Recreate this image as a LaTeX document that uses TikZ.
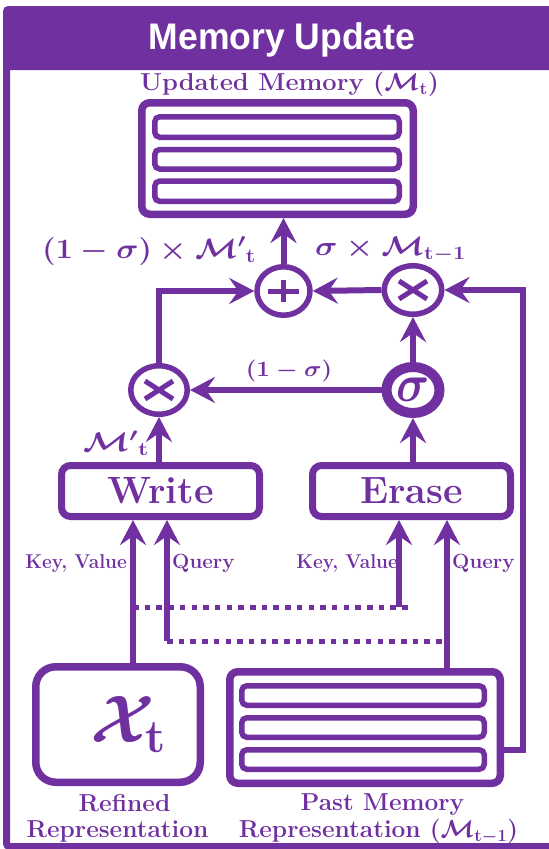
\RequirePackage{fix-cm}
\documentclass[tikz,border=0pt]{standalone}
\usepackage{amsmath}
\usepackage{fontspec}
\newfontfamily\titlefont{Liberation Sans}
\usetikzlibrary{arrows.meta,shapes.geometric}
\definecolor{purp}{RGB}{112,48,160}
\newcommand{\fsz}[1]{\fontsize{#1}{#1}\selectfont}
\begin{document}
\begin{tikzpicture}[x=1pt,y=-1pt,
  arr/.style={draw=purp,line width=6pt,-{Stealth[length=25pt,width=26pt,inset=9pt]}},
  dotline/.style={draw=purp,line width=5pt,dash pattern=on 5.5pt off 6.2pt},
  bigbox/.style={draw=purp,line width=7.5pt,rounded corners=8pt,rectangle,inner sep=0pt,fill=white},
  opbox/.style={draw=purp,line width=7pt,rounded corners=9pt,rectangle,inner sep=0pt,text=purp,font=\bfseries\fsz{38}},
  bar/.style={draw=purp,line width=5.5pt,rounded corners=5pt,rectangle,inner sep=0pt},
  opc/.style={draw=purp,line width=5.5pt,ellipse,inner sep=0pt},
  sym/.style={draw=purp,line width=5pt},
  lbl/.style={text=purp,inner sep=0pt,anchor=base},
]
\useasboundingbox (0,0) rectangle (549,849);
\clip (0,0) rectangle (549,849);
% frame and title bar
\draw[purp,line width=7pt,rounded corners=3pt] (6.5,20) rectangle (580,846.5);
\fill[purp,rounded corners=5pt] (3,6) rectangle (580,70);
\node[lbl,text=white,font=\titlefont\bfseries\fsz{37}] (title) at (282,49.3) {\scalebox{0.96}[1]{Memory Update}};

% updated memory
\node[lbl,font=\bfseries\boldmath\fsz{24.5}] (uml) at (289.5,90.7) {\scalebox{1.04}[1]{Updated Memory ($\mathcal{M}_{\mathbf{t}}$)}};
\node[bigbox,minimum width=271.5pt,minimum height=111.5pt] (umem) at (277.5,158.5) {};
\node[bar,minimum width=244.5pt,minimum height=20.5pt] (ub1) at (277,127) {};
\node[bar,minimum width=244.5pt,minimum height=19.5pt] (ub2) at (277,159.25) {};
\node[bar,minimum width=244.5pt,minimum height=20.3pt] (ub3) at (277,191.2) {};

% operators
\node[opc,minimum width=53pt,minimum height=48.5pt] (plus) at (283.5,291) {};
\draw[sym] ([xshift=-15.5pt]plus.center) -- ([xshift=15.5pt]plus.center);
\draw[sym] ([yshift=-11pt]plus.center) -- ([yshift=11pt]plus.center);
\node[opc,minimum width=57.5pt,minimum height=48.5pt] (tr) at (413,290) {};
\draw[sym] ([shift={(-14pt,-9pt)}]tr.center) -- ([shift={(14pt,9pt)}]tr.center);
\draw[sym] ([shift={(-14pt,9pt)}]tr.center) -- ([shift={(14pt,-9pt)}]tr.center);
\node[opc,minimum width=56.5pt,minimum height=48.5pt] (tl) at (159,390) {};
\draw[sym] ([shift={(-14pt,-9pt)}]tl.center) -- ([shift={(14pt,9pt)}]tl.center);
\draw[sym] ([shift={(-14pt,9pt)}]tl.center) -- ([shift={(14pt,-9pt)}]tl.center);
\node[opc,line width=10pt,minimum width=53pt,minimum height=46pt,text=purp,font=\boldmath\fsz{46}] (sig) at (413,390) {\scalebox{1}[1.15]{$\sigma$}};

% labels near operators
\node[lbl,font=\boldmath\fsz{28}] (l1) at (149,258) {\scalebox{1.1}[1]{$(1-\sigma)\times{\mathcal{M}'}_{\mathbf{t}}$}};
\node[lbl,font=\boldmath\fsz{27}] (l2) at (390.5,255) {\scalebox{1.15}[1]{$\sigma\times\mathcal{M}_{\mathbf{t}-\mathbf{1}}$}};
\node[lbl,font=\boldmath\fsz{22}] (l3) at (289,376.5) {\scalebox{1.1}[1]{$(1-\sigma)$}};
\node[lbl,font=\boldmath\fsz{27}] (l4) at (116,451) {\scalebox{1.25}[1]{${\mathcal{M}'}_{\mathbf{t}}$}};

% write / erase
\node[opbox,minimum width=198pt,minimum height=51pt] (write) at (160.5,491) {Write\hspace{12pt}};
\node[opbox,minimum width=198pt,minimum height=51pt] (erase) at (411.5,491) {Erase};

% key / query labels
\node[lbl,anchor=base east,font=\bfseries\fsz{20}] (kvl) at (127,568) {\scalebox{0.95}[1]{Key, Value}};
\node[lbl,anchor=base west,font=\bfseries\fsz{20.5}] (qyl) at (172,568) {Query};
\node[lbl,anchor=base east,font=\bfseries\fsz{20}] (kvr) at (398,568) {\scalebox{0.95}[1]{Key, Value}};
\node[lbl,anchor=base west,font=\bfseries\fsz{20.5}] (qyr) at (452,568) {Query};

% inputs
\node[bigbox,rounded corners=20pt,minimum width=164.5pt,minimum height=115.5pt,text=purp,font=\boldmath\fsz{67}] (xt) at (118,724.5) {\hspace{20pt}$\mathcal{X}_{\mathbf{t}}$};
\node[bigbox,minimum width=270.5pt,minimum height=111.5pt] (pmem) at (365,727.5) {};
\node[bar,minimum width=242.5pt,minimum height=19.5pt] (pb1) at (363,695.5) {};
\node[bar,minimum width=242.5pt,minimum height=19.5pt] (pb2) at (363,727.5) {};
\node[bar,minimum width=242.5pt,minimum height=19.5pt] (pb3) at (363,759.5) {};

\node[lbl,font=\bfseries\fsz{24.5}] (rf1) at (124.5,811) {Refined};
\node[lbl,font=\bfseries\fsz{24.5}] (rf2) at (117.5,837) {Representation};
\node[lbl,font=\bfseries\boldmath\fsz{24.5}] (pm1) at (382.5,810.5) {Past Memory};
\node[lbl,font=\bfseries\boldmath\fsz{24.5}] (pm2) at (378.5,837.5) {Representation ($\mathcal{M}_{\mathbf{t}-\mathbf{1}}$)};

% coordinates for free routing
\coordinate (kl) at (133,607);
\coordinate (kr) at (399,607);
\coordinate (kend) at (411,607);
\coordinate (ql) at (167,641);
\coordinate (qr) at (447,641);
\coordinate (rc1) at (523,750);
\coordinate (rc2) at (523,290);

% connectors
\draw[arr] (plus.north) -- (plus.north |- umem.south);
\draw[arr] (tl.north) |- (plus.west);
\draw[arr] (tr.west) -- (plus.east);
\draw[arr] (sig.north) -- (tr.south);
\draw[arr] (sig.west) -- (tl.east);
\draw[arr] (tl.south |- write.north) -- (tl.south);
\draw[arr] (sig.south |- erase.north) -- (sig.south);

\draw[dotline] (kl) -- (kend);
\draw[dotline] (ql) -- (qr);
\draw[arr] (kl |- xt.north) -- (kl |- write.south);
\draw[arr] (ql) -- (ql |- write.south);
\draw[arr] (kr) -- (kr |- erase.south);
\draw[arr] (qr |- pmem.north) -- (qr |- erase.south);
\draw[arr] (pmem.east |- rc1) -- (rc1) -- (rc2) -- (tr.east);
\end{tikzpicture}
\end{document}
